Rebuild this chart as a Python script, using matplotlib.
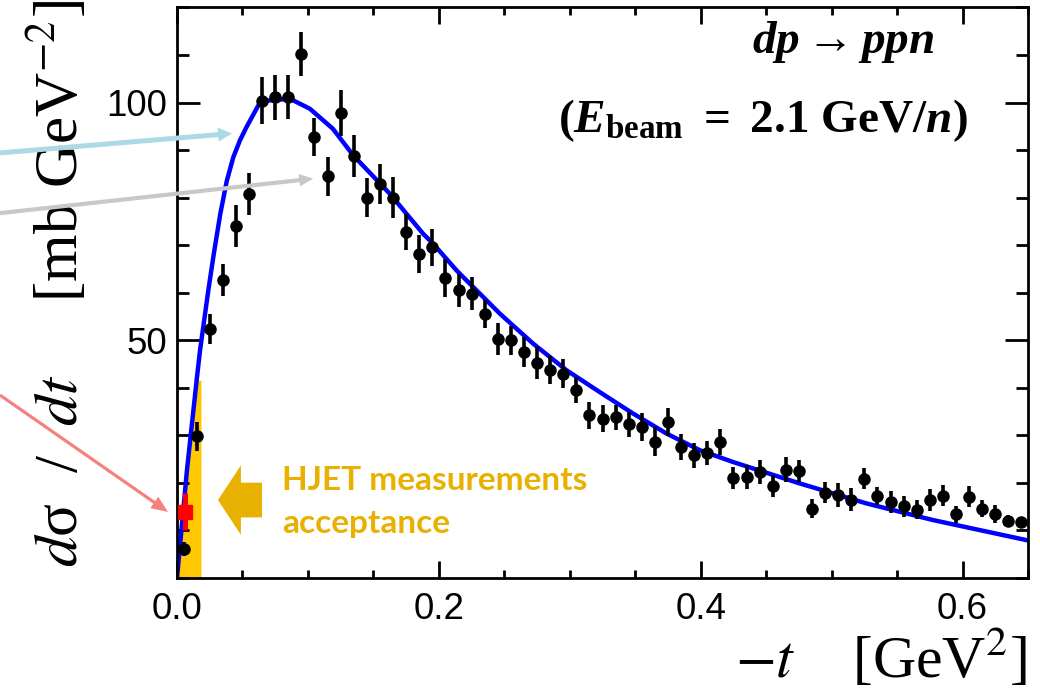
import numpy as np
import matplotlib
matplotlib.use("Agg")
import matplotlib.pyplot as plt
from matplotlib.ticker import MultipleLocator

plt.rcParams["font.family"] = ["Liberation Sans", "DejaVu Sans"]
plt.rcParams["mathtext.fontset"] = "custom"
plt.rcParams["mathtext.rm"] = "Liberation Serif:bold"
plt.rcParams["mathtext.it"] = "Liberation Serif:italic:bold"
plt.rcParams["mathtext.bf"] = "Liberation Serif:bold"
plt.rcParams["mathtext.fallback"] = "stix"

# measured dsigma/dt points (black)
t_vals = [0.005, 0.015, 0.025, 0.035, 0.045, 0.055, 0.065, 0.075, 0.085, 0.095,
          0.105, 0.115, 0.125, 0.135, 0.145, 0.155, 0.165, 0.175, 0.185, 0.195,
          0.205, 0.215, 0.225, 0.235, 0.245, 0.255, 0.265, 0.275, 0.285, 0.295,
          0.305, 0.315, 0.325, 0.335, 0.345, 0.355, 0.365, 0.375, 0.385, 0.395,
          0.405, 0.415, 0.425, 0.435, 0.445, 0.455, 0.465, 0.475, 0.485, 0.495,
          0.505, 0.515, 0.525, 0.535, 0.545, 0.555, 0.565, 0.575, 0.585, 0.595,
          0.605, 0.615, 0.625, 0.635, 0.645]
xsec = [6.1, 29.8, 52.4, 62.7, 74.0, 80.8, 100.4, 101.1, 101.1, 110.2,
        92.7, 84.5, 97.8, 88.7, 80.0, 82.9, 80.0, 72.8, 68.2, 69.6,
        63.1, 60.5, 59.8, 55.5, 50.3, 50.0, 47.5, 45.2, 43.7, 43.0,
        39.5, 34.2, 33.5, 33.8, 32.3, 31.8, 28.7, 32.8, 27.6, 25.8,
        26.3, 28.6, 21.1, 21.3, 22.3, 19.3, 22.8, 22.5, 14.6, 17.9,
        17.4, 16.5, 20.9, 17.3, 16.0, 15.1, 14.4, 16.5, 17.3, 13.4,
        17.1, 14.6, 13.4, 12.0, 11.7]
xsec_err = [1.5, 3.0, 3.2, 3.4, 4.4, 4.4, 5.0, 4.7, 4.6, 4.6,
            4.0, 4.1, 4.8, 4.4, 4.1, 4.2, 4.3, 3.8, 4.0, 3.9,
            4.0, 3.5, 3.5, 3.0, 3.4, 3.0, 3.2, 3.3, 2.9, 3.1,
            2.7, 2.9, 2.8, 2.6, 2.6, 2.9, 3.0, 2.9, 2.7, 2.6,
            2.6, 2.8, 2.3, 2.5, 2.5, 2.3, 2.6, 2.4, 2.0, 2.2,
            2.5, 2.5, 2.2, 1.9, 2.3, 2.2, 2.0, 2.3, 2.2, 1.8,
            2.2, 1.8, 1.9, 1.3, 1.2]

# model curve (blue)
curve_t = [0.0, 0.0076, 0.0150, 0.0176, 0.0239, 0.028, 0.033, 0.038, 0.043,
           0.048, 0.053, 0.0621, 0.0685, 0.0863, 0.1015, 0.119, 0.1346, 0.1626,
           0.188, 0.1957, 0.2135, 0.2211, 0.2466, 0.272, 0.2975, 0.3229, 0.3483,
           0.3738, 0.3992, 0.4247, 0.4756, 0.5265, 0.5773, 0.65]
curve_y = [0.0, 22.7, 41.6, 47.9, 60.5, 68.0, 76.5, 83.5, 88.5,
           92.0, 94.8, 99.4, 100.4, 100.8, 98.7, 94.5, 88.9, 80.8,
           72.4, 70.3, 64.7, 62.6, 55.6, 49.3, 43.7, 39.1, 34.6,
           30.4, 26.9, 24.4, 19.9, 15.7, 12.2, 7.9]

# HJET point (red) and acceptance band
hjet_t = [0.0064]
hjet_xsec = [13.9]
hjet_err = [3.9]
acc_max = 0.0183
acc_cap = 41.6

gold = "#E8B000"

fig = plt.figure(figsize=(10.4, 6.92), dpi=100)
ax = fig.add_axes([0.1702, 0.1647, 0.8183, 0.8245])

ct = np.array(curve_t)
cy = np.array(curve_y)
inside = ct < acc_max
fill_t = np.append(ct[inside], acc_max)
fill_y = np.minimum(np.append(cy[inside], np.interp(acc_max, ct, cy)), acc_cap)
ax.fill_between(fill_t, 0, fill_y, color="#FFC800", lw=0, zorder=1)

ax.plot(curve_t, curve_y, color="#0000FF", lw=3.2, zorder=2)
ax.errorbar(t_vals, xsec, yerr=xsec_err, fmt="o", color="black", ms=8,
            elinewidth=2.6, capsize=0, zorder=4)
ax.errorbar(hjet_t, hjet_xsec, yerr=hjet_err, fmt="s", color="red", ms=9.5,
            elinewidth=3.6, capsize=0, zorder=5, clip_on=False)

ax.set_xlim(0, 0.65)
ax.set_ylim(0, 120)
ax.xaxis.set_major_locator(MultipleLocator(0.2))
ax.xaxis.set_minor_locator(MultipleLocator(0.05))
ax.set_yticks([50, 100])
ax.yaxis.set_minor_locator(MultipleLocator(10))
ax.tick_params(which="both", direction="in", top=True, right=True, width=2,
               labelsize=26.5)
ax.tick_params(axis="x", which="major", length=12, pad=10)
ax.tick_params(axis="x", which="minor", length=5.5)
ax.tick_params(axis="y", which="major", length=16.5, pad=7)
ax.tick_params(axis="y", which="minor", length=8.5)
for s in ax.spines.values():
    s.set_linewidth(2)

# axis titles
ax.text(0.057, 1.0, "$d$σ  /  $dt$     [mb GeV$^{-2}$]", transform=fig.transFigure,
        rotation=90, ha="center", va="top", fontsize=44,
        family="Liberation Serif", math_fontfamily="stix", zorder=1)
ax.text(0.988, 0.003, "$-t$    [GeV$^{2}$]", transform=fig.transFigure,
        ha="right", va="bottom", fontsize=43,
        family="Liberation Serif", math_fontfamily="stix")

# reaction label
ax.text(0.783, 0.920, r"$dp \rightarrow ppn$", transform=ax.transAxes,
        ha="center", va="baseline", fontsize=34)
ax.text(0.688, 0.782, r"$(E_{\mathrm{beam}}\ =\ 2.1\ \mathrm{GeV}/n)$",
        transform=ax.transAxes, ha="center", va="baseline", fontsize=34)

# acceptance marker
ax.annotate("", xy=(0.0313, 16.4), xytext=(0.0649, 16.4),
            arrowprops=dict(arrowstyle="simple,head_length=16.5,head_width=50,tail_width=25",
                            mutation_scale=1, color=gold, lw=0,
                            shrinkA=0, shrinkB=0))
ax.text(0.0802, 18.5, "HJET measurements", color=gold, fontsize=24,
        family="Lato", weight="bold", va="baseline")
ax.text(0.0802, 9.4, "acceptance", color=gold, fontsize=24,
        family="Lato", weight="bold", va="baseline")

# pointer arrows from the left
arrow_specs = [
    ((0.042, 93.5), (0.0, 0.779), "#ADD8E6", 3.6, 10, 10),
    ((0.104, 84.0), (0.0, 0.692), "#C8C8C8", 3.0, 9, 10),
    ((-0.0069, 13.9), (0.0, 0.429), "#F4817F", 2.3, 10, 12),
]
for tip, tail, col, tw, hw, hl in arrow_specs:
    ax.annotate("", xy=tip, xycoords="data", xytext=tail,
                textcoords="figure fraction", annotation_clip=False,
                arrowprops=dict(arrowstyle=f"simple,head_length={hl},head_width={hw},tail_width={tw}",
                                mutation_scale=1, color=col, lw=0,
                                shrinkA=0, shrinkB=0),
                zorder=6)

fig.savefig("out.png", dpi=100)
